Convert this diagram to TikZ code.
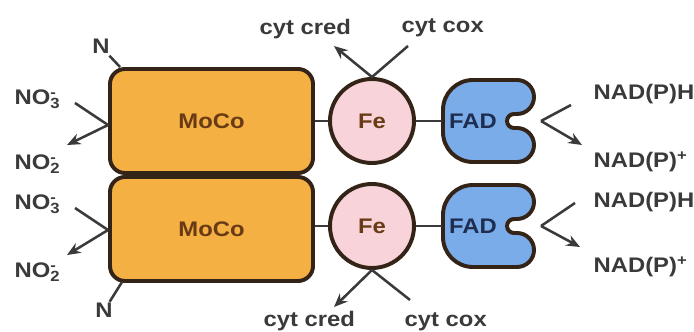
\documentclass[tikz,border=0pt]{standalone}
\usepackage{fontspec}
\setmainfont{Liberation Sans}[FakeStretch=1.13]
\usetikzlibrary{calc,arrows.meta}

\definecolor{mocofill}{RGB}{244,176,66}
\definecolor{mocotext}{RGB}{105,58,22}
\definecolor{fefill}{RGB}{248,212,218}
\definecolor{fadfill}{RGB}{122,172,234}
\definecolor{fadtext}{RGB}{30,45,80}
\definecolor{rim}{RGB}{52,36,24}
\definecolor{ink}{RGB}{58,58,58}

\tikzset{
  txt/.style={font=\bfseries\fontsize{15}{17}\selectfont},
  mocobox/.style={txt, draw=rim, fill=mocofill, line width=2.8pt, rounded corners=3.75mm,
    minimum width=50.75mm, minimum height=26mm, text=mocotext},
  feball/.style={txt, circle, draw=rim, fill=fefill, line width=2.8pt, minimum size=21mm, text=mocotext},
  lbl/.style={txt, text=ink, inner sep=1pt},
  link/.style={draw=ink, line width=1.8pt},
  arr/.style={link, -{Stealth[length=3.4mm,width=2.8mm]}},
  pics/fad/.style={code={
    \draw[draw=rim, fill=fadfill, line width=2.8pt]
      (-16,41) -- (28,41) arc[start angle=90, end angle=-90, radius=17]
      -- (25,7) arc[start angle=90, end angle=270, radius=7]
      -- (28,-7) arc[start angle=90, end angle=-90, radius=17]
      -- (-16,-41) arc[start angle=270, end angle=180, radius=30]
      -- (-46,11) arc[start angle=180, end angle=90, radius=30] -- cycle;
    \node[txt, text=fadtext] (-lbl) at (-16,0) {FAD};
    \coordinate (-w) at (-47,0);
    \coordinate (-e) at (52,0);
  }}
}

\begin{document}
\begin{tikzpicture}[x=0.25mm, y=0.25mm]
  \useasboundingbox (0,0) rectangle (694,332);

  \node[mocobox] (moco1) at (211.5,211) {MoCo};
  \node[feball] (fe1) at (372,211) {Fe};
  \pic (fad1) at (489,211) {fad};
  \draw[link] (moco1) -- (fe1);
  \draw[link] (fe1) -- (fad1-w);

  \node[mocobox] (moco2) at (211.5,103) {MoCo};
  \node[feball] (fe2) at (372,106) {Fe};
  \pic (fad2) at (489,106) {fad};
  \draw[link] (moco2.east |- fe2) -- (fe2);
  \draw[link] (fe2) -- (fad2-w);

  \node[lbl, anchor=base west] (no3a) at (13,227) {NO\rlap{\textsuperscript{-}}\textsubscript{3}};
  \node[lbl, anchor=base west] (no2a) at (13,162) {NO\rlap{\textsuperscript{-}}\textsubscript{2}};
  \node[lbl, anchor=base] (na) at (101,278) {N};
  \coordinate (m1in) at (75,229);
  \coordinate (m1w) at ($(moco1.west)+(0,-4)$);
  \coordinate (m1out) at (67,187);
  \draw[link] (m1in) -- (m1w);
  \draw[arr] (m1w) -- (m1out);
  \draw[link] (na) -- ($(moco1.north west)+(12,0)$);

  \node[lbl, anchor=base west] (no3b) at (13,122) {NO\rlap{\textsuperscript{-}}\textsubscript{3}};
  \node[lbl, anchor=base west] (no2b) at (13,54) {NO\rlap{\textsuperscript{-}}\textsubscript{2}};
  \node[lbl, anchor=base] (nb) at (104,14) {N};
  \coordinate (m2in) at (75,124);
  \coordinate (m2w) at ($(moco2.west)+(0,-1)$);
  \coordinate (m2out) at (67,77);
  \draw[link] (m2in) -- (m2w);
  \draw[arr] (m2w) -- (m2out);
  \draw[link] (nb) -- ($(moco2.south west)+(14,1)$);

  \node[lbl, anchor=base west] (cred1) at (258,297) {cyt cred};
  \node[lbl, anchor=base west] (cox1) at (400,299) {cyt cox};
  \coordinate (c1red) at (334,286);
  \coordinate (c1ox) at (408,286);
  \draw[arr] (fe1.north) -- (c1red);
  \draw[link] (c1ox) -- (fe1.north);

  \node[lbl, anchor=base west] (cred2) at (262,5) {cyt cred};
  \node[lbl, anchor=base west] (cox2) at (403,5) {cyt cox};
  \coordinate (c2red) at (334,25);
  \coordinate (c2ox) at (410,32);
  \draw[arr] (fe2.south) -- (c2red);
  \draw[link] (c2ox) -- (fe2.south);

  \node[lbl, anchor=base west] (nadh1) at (592,232) {NAD(P)H};
  \node[lbl, anchor=base west] (nadp1) at (592,164) {NAD(P)\textsuperscript{+}};
  \coordinate (h1) at (571,227);
  \coordinate (p1) at (582,187);
  \draw[link] (h1) -- (fad1-e);
  \draw[arr] (fad1-e) -- (p1);

  \node[lbl, anchor=base west] (nadh2) at (592,124) {NAD(P)H};
  \node[lbl, anchor=base west] (nadp2) at (592,59) {NAD(P)\textsuperscript{+}};
  \coordinate (h2) at (575,129);
  \coordinate (p2) at (580,85);
  \draw[link] (h2) -- (fad2-e);
  \draw[arr] (fad2-e) -- (p2);
\end{tikzpicture}
\end{document}
